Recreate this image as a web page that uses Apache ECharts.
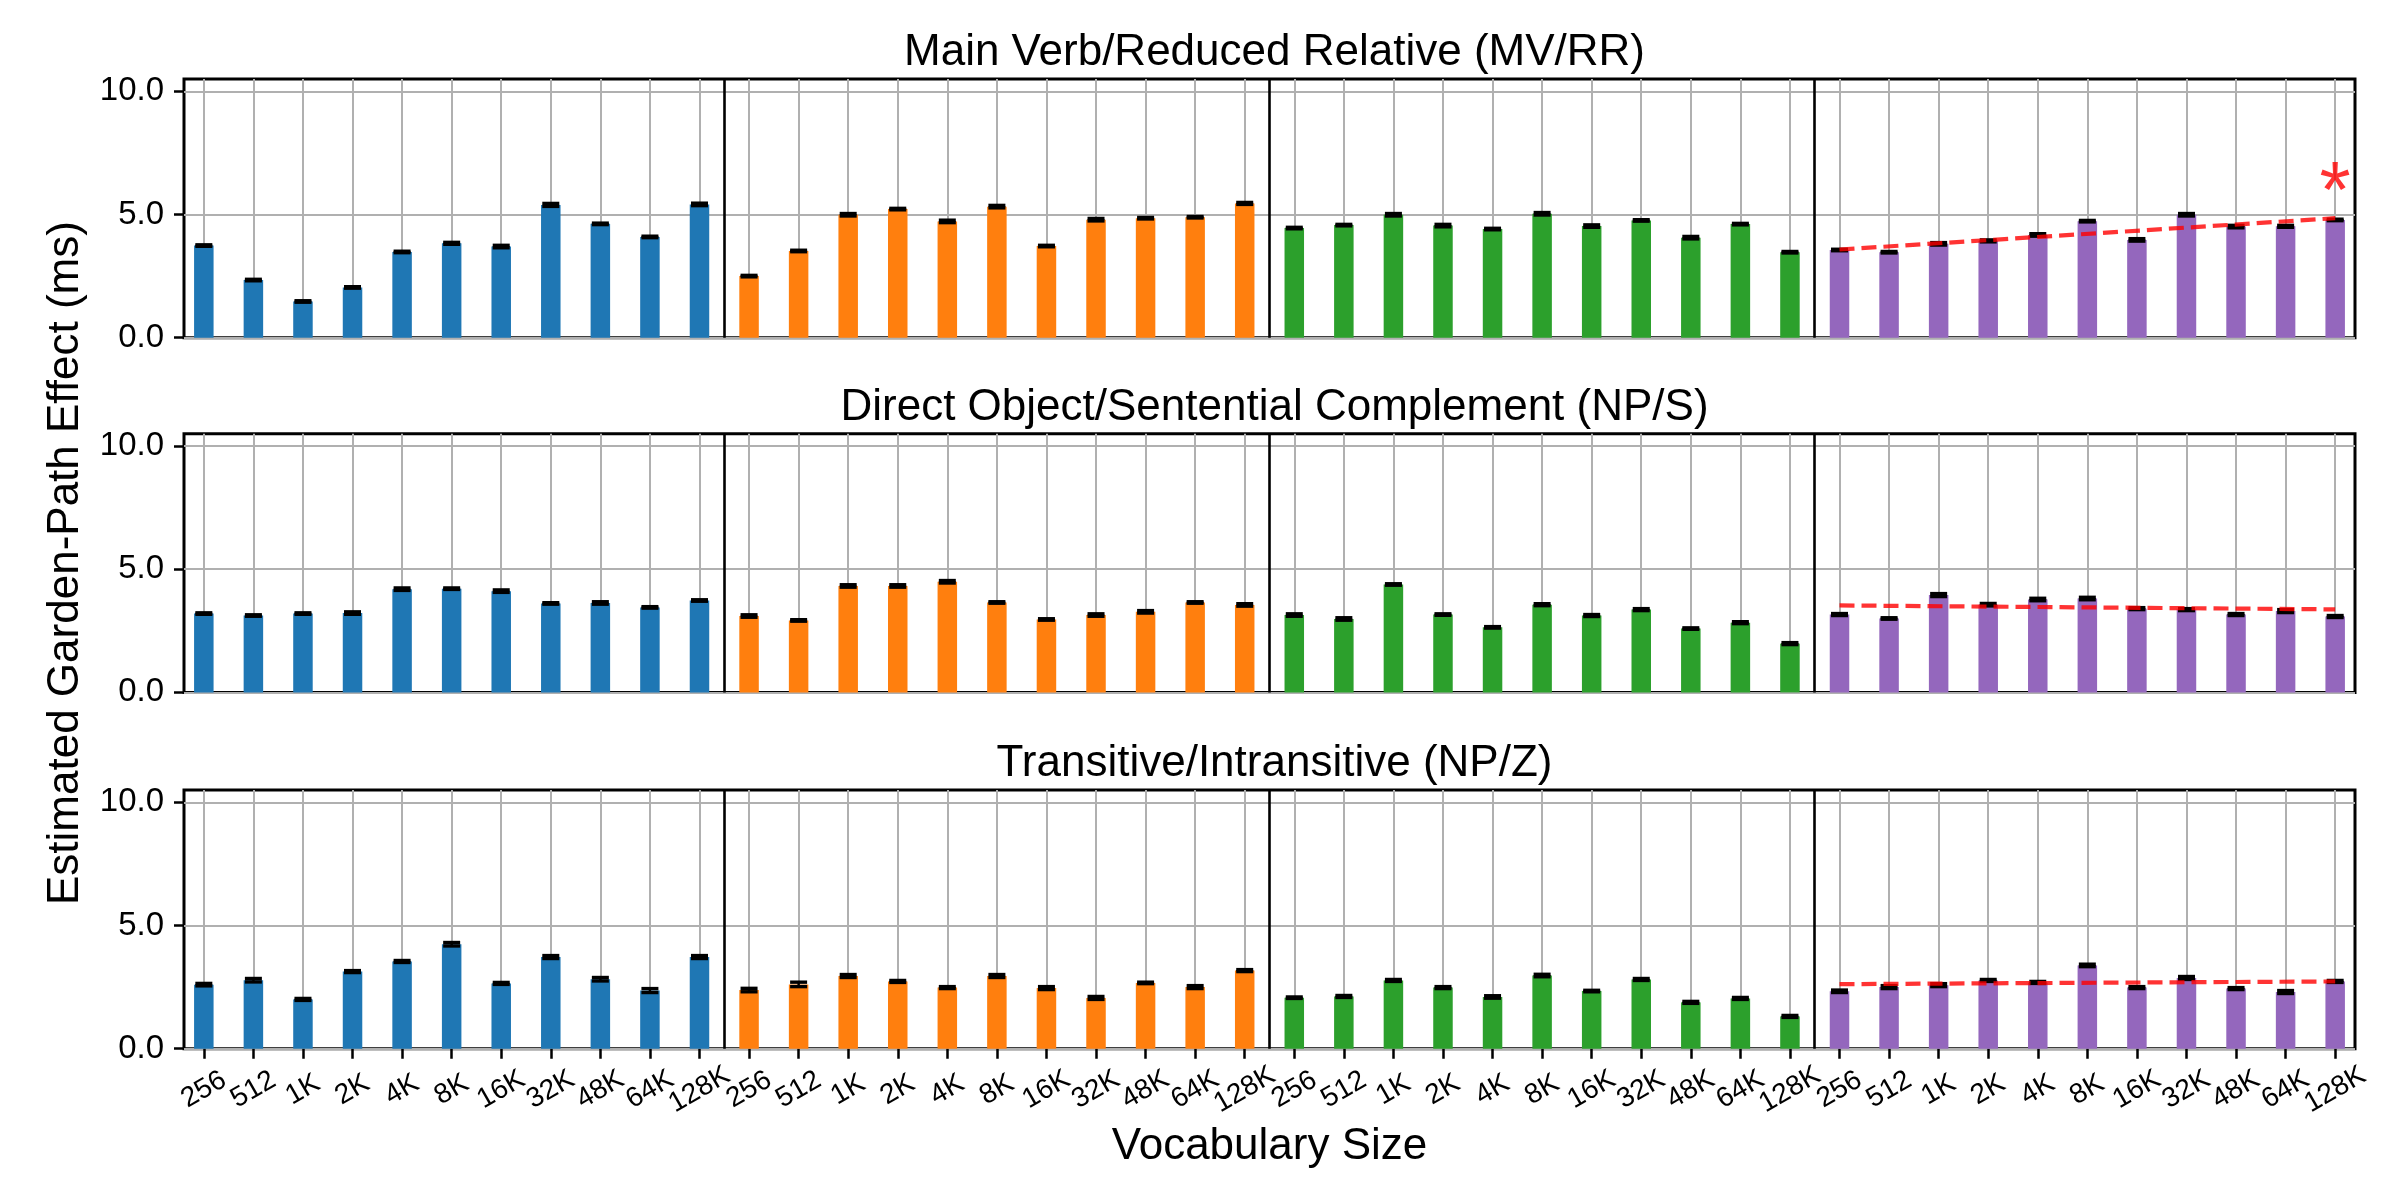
<!DOCTYPE html>
<html>
<head>
<meta charset="utf-8">
<script src="https://cdn.jsdelivr.net/npm/echarts@6/dist/echarts.min.js"></script>
<style>
html,body{margin:0;padding:0;background:#fff;}
#chart{width:2400px;height:1200px;}
</style>
</head>
<body>
<div id="chart"></div>
<script>
// ---------- DATA ----------
const vocab = ['256','512','1K','2K','4K','8K','16K','32K','48K','64K','128K'];
const panelTitles = [
  'Main Verb/Reduced Relative (MV/RR)',
  'Direct Object/Sentential Complement (NP/S)',
  'Transitive/Intransitive (NP/Z)'
];
const yTicks = [0, 5, 10];

// Garden-path effect (ms): 4 groups x 11 vocabulary sizes
const mvrrValues = [
  3.74, 2.34, 1.47, 2.04, 3.48, 3.83, 3.70, 5.39, 4.62, 4.09, 5.41,
  2.50, 3.52, 4.99, 5.22, 4.72, 5.32, 3.72, 4.79, 4.85, 4.89, 5.45,
  4.45, 4.57, 4.99, 4.55, 4.41, 5.03, 4.53, 4.76, 4.06, 4.61, 3.47,
  3.56, 3.47, 3.81, 3.93, 4.17, 4.73, 3.97, 4.99, 4.51, 4.52, 4.78
];
const mvrrErrors = [
  0.03, 0.03, 0.03, 0.03, 0.03, 0.04, 0.05, 0.06, 0.03, 0.03, 0.05,
  0.03, 0.03, 0.05, 0.03, 0.05, 0.05, 0.03, 0.05, 0.03, 0.03, 0.04,
  0.03, 0.03, 0.05, 0.05, 0.03, 0.05, 0.05, 0.03, 0.05, 0.03, 0.03,
  0.03, 0.03, 0.05, 0.04, 0.05, 0.03, 0.05, 0.05, 0.05, 0.04, 0.03
];
const npsValues = [
  3.20, 3.12, 3.20, 3.22, 4.19, 4.21, 4.11, 3.61, 3.63, 3.45, 3.73,
  3.10, 2.92, 4.32, 4.32, 4.49, 3.65, 2.96, 3.14, 3.27, 3.65, 3.55,
  3.14, 2.98, 4.38, 3.16, 2.64, 3.56, 3.12, 3.36, 2.59, 2.83, 1.98,
  3.16, 3.00, 3.95, 3.56, 3.77, 3.81, 3.40, 3.36, 3.16, 3.30, 3.08
];
const npsErrors = [
  0.03, 0.03, 0.03, 0.05, 0.05, 0.03, 0.05, 0.03, 0.05, 0.03, 0.03,
  0.05, 0.03, 0.05, 0.05, 0.05, 0.03, 0.03, 0.05, 0.05, 0.03, 0.05,
  0.05, 0.05, 0.03, 0.03, 0.03, 0.04, 0.04, 0.04, 0.03, 0.04, 0.04,
  0.04, 0.03, 0.06, 0.05, 0.05, 0.05, 0.04, 0.04, 0.04, 0.06, 0.04
];
const npzValues = [
  2.60, 2.78, 2.00, 3.13, 3.54, 4.24, 2.65, 3.72, 2.82, 2.36, 3.72,
  2.38, 2.61, 2.95, 2.73, 2.48, 2.95, 2.46, 2.06, 2.67, 2.50, 3.17,
  2.07, 2.12, 2.77, 2.48, 2.10, 2.97, 2.34, 2.81, 1.88, 2.04, 1.31,
  2.33, 2.50, 2.58, 2.77, 2.69, 3.38, 2.48, 2.87, 2.44, 2.30, 2.73
];
const npzErrors = [
  0.05, 0.07, 0.04, 0.04, 0.04, 0.07, 0.04, 0.06, 0.07, 0.08, 0.06,
  0.07, 0.09, 0.06, 0.04, 0.04, 0.06, 0.06, 0.06, 0.03, 0.06, 0.04,
  0.03, 0.04, 0.04, 0.04, 0.05, 0.05, 0.03, 0.04, 0.04, 0.04, 0.04,
  0.05, 0.06, 0.06, 0.04, 0.04, 0.05, 0.04, 0.06, 0.04, 0.06, 0.04
];
// Red dashed trend line over the last group (start / end values)
const trendX = [33, 43];
const mvrrTrend = [3.58, 4.85];
const npsTrend = [3.53, 3.37];
const npzTrend = [2.62, 2.73];
// significance marker: [x index, y value]
const mvrrStar = [43, 5.8];

const groupDividers = [10.5, 21.5, 32.5];

// ---------- STYLE / LAYOUT ----------
const colors = ['#1f77b4', '#ff7f0e', '#2ca02c', '#9467bd'];
const FONT = 'Liberation Sans';
const frameL = 184, frameR = 2355;
const unit = (frameR - frameL) / 43.8;
const innerL = frameL + 0.4 * unit, innerR = frameR - 0.4 * unit;
const panelTop = [79, 433.7, 790];
const panelH = 258.7;
const gridCol = '#b0b0b0';

const panels = [
  {values: mvrrValues, errors: mvrrErrors, trend: mvrrTrend},
  {values: npsValues, errors: npsErrors, trend: npsTrend},
  {values: npzValues, errors: npzErrors, trend: npzTrend}
];
// one tick per bar position; labels split over two axes so none get auto-hidden
const xTickValues = mvrrValues.map((v, i) => i);
const xEven = xTickValues.filter(i => i % 2 === 0);
const xOdd = xTickValues.filter(i => i % 2 === 1);

const grids = [], xAxes = [], yAxes = [], series = [], titles = [];
const xLabelStyle = {
  formatter: v => vocab[Math.round(v) % 11], rotate: 30,
  align: 'center', verticalAlign: 'middle', margin: 41, fontSize: 28, color: '#000', fontFamily: FONT
};

panels.forEach((pd, p) => {
  const fi = 2 * p, ii = 2 * p + 1;
  grids.push({left: frameL, width: frameR - frameL, top: panelTop[p], height: panelH,
    show: true, borderColor: '#000', borderWidth: 3, backgroundColor: 'transparent', containLabel: false});
  grids.push({left: innerL, width: innerR - innerL, top: panelTop[p], height: panelH, containLabel: false});

  const yBase = yAxes.length;
  const xBase = xAxes.length;
  xAxes.push({type: 'value', gridIndex: fi, min: 0, max: 1, show: false});
  xAxes.push({
    type: 'value', gridIndex: ii, min: 0, max: 43, position: 'bottom',
    axisLine: {show: false},
    axisTick: {show: p === 2, length: 10, customValues: xTickValues, lineStyle: {color: '#000', width: 2.5}},
    axisLabel: Object.assign({show: p === 2, customValues: xEven}, xLabelStyle),
    splitLine: {show: true, lineStyle: {color: gridCol, width: 2}},
    name: p === 2 ? 'Vocabulary Size' : '',
    nameLocation: 'middle', nameGap: 76,
    nameTextStyle: {fontSize: 44, color: '#000', fontFamily: FONT}
  });
  xAxes.push({
    type: 'value', gridIndex: ii, min: 0, max: 43, position: 'bottom', offset: 0,
    axisLine: {show: false}, axisTick: {show: false}, splitLine: {show: false},
    axisLabel: Object.assign({show: p === 2, customValues: xOdd}, xLabelStyle)
  });
  const xi = xBase + 1;

  yAxes.push({
    type: 'value', gridIndex: fi, min: 0, max: 10.5,
    axisLine: {show: false},
    axisTick: {show: true, length: 10, customValues: yTicks, lineStyle: {color: '#000', width: 2.5}},
    axisLabel: {customValues: yTicks, formatter: v => v.toFixed(1), fontSize: 33, color: '#000', margin: 20, fontFamily: FONT},
    splitLine: {show: true, lineStyle: {color: gridCol, width: 2}},
    name: p === 1 ? 'Estimated Garden-Path Effect (ms)' : '',
    nameLocation: 'middle', nameRotate: 90, nameGap: 96,
    nameTextStyle: {fontSize: 44, color: '#000', fontFamily: FONT}
  });
  yAxes.push({type: 'value', gridIndex: ii, min: 0, max: 10.5, show: false});
  const yi = yBase + 1;

  series.push({
    type: 'bar', xAxisIndex: xi, yAxisIndex: yi, barWidth: 19.5, z: 2,
    data: pd.values.map((v, i) => [i, v]),
    itemStyle: {color: params => colors[Math.floor(params.dataIndex / 11)]},
    markLine: {
      symbol: 'none', silent: true, label: {show: false}, animation: false,
      lineStyle: {color: '#000', type: 'solid', width: 2.6},
      emphasis: {disabled: true},
      data: groupDividers.map(x => ({xAxis: x}))
    }
  });
  series.push({
    type: 'custom', xAxisIndex: xi, yAxisIndex: yi, z: 3,
    data: pd.values.map((v, i) => [i, v - pd.errors[i], v + pd.errors[i]]),
    renderItem: (params, api) => {
      const x = api.value(0);
      const lo = api.coord([x, api.value(1)]);
      const hi = api.coord([x, api.value(2)]);
      const hw = 8.5;
      const st = {stroke: '#000', lineWidth: 3.4};
      return {type: 'group', children: [
        {type: 'line', shape: {x1: lo[0], y1: lo[1], x2: hi[0], y2: hi[1]}, style: {stroke: '#000', lineWidth: 2.4}},
        {type: 'line', shape: {x1: lo[0] - hw, y1: lo[1], x2: lo[0] + hw, y2: lo[1]}, style: st},
        {type: 'line', shape: {x1: hi[0] - hw, y1: hi[1], x2: hi[0] + hw, y2: hi[1]}, style: st}
      ]};
    }
  });
  series.push({
    type: 'line', xAxisIndex: xi, yAxisIndex: yi, z: 4, symbol: 'none', silent: true,
    data: trendX.map((x, k) => [x, pd.trend[k]]),
    lineStyle: {color: 'rgba(255,0,0,0.8)', width: 4.2, type: [15, 7]}
  });
  if (p === 0) {
    series.push({
      type: 'scatter', xAxisIndex: xi, yAxisIndex: yi, z: 5, symbolSize: 2, silent: true,
      itemStyle: {color: 'rgba(0,0,0,0)'},
      data: [mvrrStar],
      label: {show: true, position: 'inside', formatter: '*', color: '#ff0000', fontSize: 80, fontFamily: FONT}
    });
  }

  titles.push({
    text: panelTitles[p], left: (innerL + innerR) / 2, textAlign: 'center', top: panelTop[p] - 53,
    textStyle: {fontSize: 44, fontWeight: 'normal', color: '#000', fontFamily: FONT}
  });
});

const chart = echarts.init(document.getElementById('chart'), null, {renderer: 'canvas'});
chart.setOption({
  animation: false,
  backgroundColor: '#fff',
  textStyle: {fontFamily: FONT},
  title: titles,
  grid: grids,
  xAxis: xAxes,
  yAxis: yAxes,
  series: series
});
</script>
</body>
</html>
